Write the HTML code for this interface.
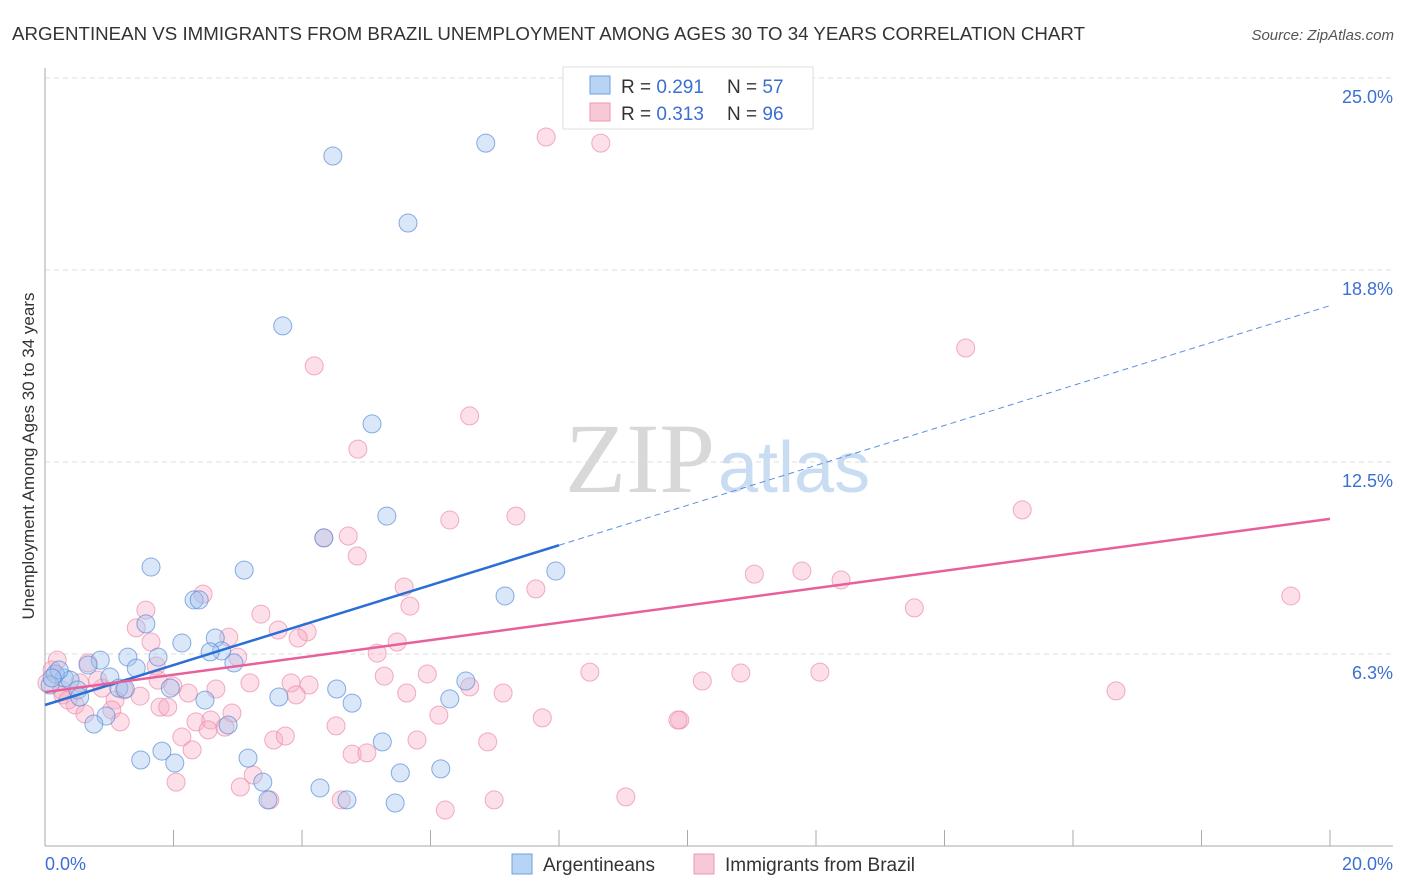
<!DOCTYPE html>
<html><head><meta charset="utf-8"><style>
body{margin:0;background:#fff;font-family:"Liberation Sans",sans-serif;}
#wrap{position:relative;width:1406px;height:892px;overflow:hidden;}
</style></head><body><div id="wrap">
<svg id="svg" width="1406" height="892" xmlns="http://www.w3.org/2000/svg">
<text x="12" y="40" font-size="18" fill="#333" textLength="1073" lengthAdjust="spacingAndGlyphs">ARGENTINEAN VS IMMIGRANTS FROM BRAZIL UNEMPLOYMENT AMONG AGES 30 TO 34 YEARS CORRELATION CHART</text>
<text x="1394" y="40" font-size="15" fill="#555" font-style="italic" text-anchor="end">Source: ZipAtlas.com</text>
<text x="715" y="492" font-size="100" fill="#d8d8d8" text-anchor="end" font-family="Liberation Serif">ZIP</text>
<text x="718" y="492" font-size="72" fill="#c8dcf2">atlas</text>
<text transform="translate(34,456) rotate(-90)" font-size="17" fill="#333" text-anchor="middle">Unemployment Among Ages 30 to 34 years</text>
<g id="grid"></g><g id="axes"></g><g id="pts"></g><g id="lines"></g>
<g>
<rect x="563" y="67" width="250" height="62" fill="#fff" stroke="#ddd"/>
<rect x="590" y="76" width="20" height="18" fill="#b8d4f4" stroke="#6fa0e0"/>
<rect x="590" y="103" width="20" height="18" fill="#f8c8d6" stroke="#ee98b4"/>
<text x="621" y="93" font-size="19" fill="#333">R = <tspan fill="#3b6fd4">0.291</tspan></text>
<text x="727" y="93" font-size="19" fill="#333">N = <tspan fill="#3b6fd4">57</tspan></text>
<text x="621" y="120" font-size="19" fill="#333">R = <tspan fill="#3b6fd4">0.313</tspan></text>
<text x="727" y="120" font-size="19" fill="#333">N = <tspan fill="#3b6fd4">96</tspan></text>
</g>
<g>
<rect x="512" y="854" width="20" height="20" fill="#b8d4f4" stroke="#6fa0e0"/>
<text x="543" y="871" font-size="19" fill="#333">Argentineans</text>
<rect x="694" y="854" width="20" height="20" fill="#f8c8d6" stroke="#ee98b4"/>
<text x="725" y="871" font-size="19" fill="#333">Immigrants from Brazil</text>
</g>
</svg></div>
<script>
const xTickLabels=["0.0%","20.0%"];
const yTicks=[6.25,12.5,18.75,25];
const yTickLabels=["6.3%","12.5%","18.8%","25.0%"];
const blueX=[4.48,6.86,5.65,3.70,5.09,5.32,4.34,1.65,3.10,7.95,7.16,2.32,2.40,1.57,2.13,2.65,2.75,2.57,2.94,1.76,1.29,0.86,0.67,1.42,0.30,0.39,1.01,1.15,1.25,1.95,0.16,0.08,0.51,0.54,2.49,3.64,4.54,4.78,6.55,6.30,0.95,0.76,2.85,1.82,1.49,2.02,3.16,5.25,3.39,5.53,6.16,4.28,3.47,4.70,5.45,0.22,0.11];
const blueY=[22.46,22.88,20.28,16.93,13.74,10.74,10.03,9.08,8.98,8.95,8.14,8.01,8.01,7.23,6.61,6.77,6.35,6.32,5.96,6.15,6.15,6.05,5.89,5.79,5.47,5.40,5.50,5.14,5.11,5.14,5.60,5.24,5.08,4.85,4.75,4.85,5.11,4.65,5.37,4.79,4.23,3.97,3.94,3.09,2.80,2.70,2.86,3.39,2.08,2.38,2.51,1.89,1.50,1.50,1.40,5.73,5.47];
const pinkX=[7.80,8.65,14.33,4.19,6.61,4.87,15.21,6.30,7.33,4.72,4.34,4.86,11.04,11.78,12.39,5.59,7.64,13.53,19.39,5.68,1.57,2.46,3.36,1.42,1.65,2.86,3.63,4.08,3.94,5.48,5.17,0.67,0.19,8.48,10.83,12.06,5.95,10.23,5.28,6.61,3.00,1.73,1.76,1.99,2.66,3.19,3.83,4.11,2.23,3.91,5.63,7.13,16.67,1.23,0.89,1.09,1.48,0.28,0.47,0.62,1.04,1.79,1.91,2.91,1.17,2.35,2.58,6.13,7.74,9.88,9.85,4.53,2.13,2.54,2.80,3.56,3.74,5.79,6.89,2.29,4.78,5.01,3.24,2.04,3.04,3.50,4.61,6.99,9.04,6.23,0.11,0.03,0.26,0.36,0.82,0.54];
const pinkY=[23.08,22.88,16.21,15.63,14.00,12.92,10.94,10.61,10.74,10.09,10.03,9.44,8.85,8.95,8.66,8.43,8.37,7.75,8.14,7.81,7.68,8.20,7.55,7.10,6.64,6.80,7.03,6.97,6.77,6.64,6.28,5.96,6.05,5.66,5.63,5.66,5.60,5.37,5.53,5.18,6.15,5.86,5.40,5.21,5.11,5.31,5.31,5.24,4.98,4.92,4.98,4.98,5.05,5.08,5.14,4.75,4.88,4.92,4.59,4.30,4.43,4.52,4.52,4.33,4.04,4.04,4.10,4.26,4.17,4.10,4.10,3.91,3.55,3.78,3.87,3.45,3.58,3.45,3.39,3.13,2.99,3.03,2.31,2.08,1.92,1.50,1.50,1.50,1.60,1.17,5.73,5.31,5.08,4.75,5.40,5.31];
const blueLine=[4.59,0.65,8.0];
const pinkLine=[5.01,0.282];
const NS="http://www.w3.org/2000/svg";
const X=v=>45+v*64.25, Y=v=>846-v*30.72;
function mk(t,a,p){const e=document.createElementNS(NS,t);for(const k in a)e.setAttribute(k,a[k]);document.getElementById(p).appendChild(e);return e;}
yTicks.forEach((t,i)=>{
 const l=mk('line',{x1:45,x2:1393,y1:Y(t),y2:Y(t),stroke:'#ddd','stroke-dasharray':'5,4'},'grid');
 
 
 const tx=mk('text',{x:1393,y:Y(t)+25,'font-size':18,fill:'#3b6fd4','text-anchor':'end'},'axes');
 tx.textContent=yTickLabels[i];
 
 
});
const ax=mk('line',{x1:45,x2:45,y1:68,y2:846,stroke:'#aaa'},'axes');


const bx=mk('line',{x1:45,x2:1393,y1:846,y2:846,stroke:'#aaa'},'axes');


for(let i=0;i<=10;i++){
 const t=mk('line',{x1:X(i*2),x2:X(i*2),y1:830,y2:846,stroke:'#aaa'},'axes');
 
 
}
[[0,'start',45],[20,'end',1393]].forEach((d,i)=>{
 const t=mk('text',{x:d[2],y:870,'font-size':18,fill:'#3b6fd4','text-anchor':d[1]},'axes');
 t.textContent=xTickLabels[i];
 
 
});
pinkX.forEach((v,i)=>{
 const c=mk('circle',{cx:X(v),cy:Y(pinkY[i]),r:9,fill:'rgba(246,170,195,0.38)',stroke:'rgba(236,140,170,0.7)'},'pts');
 
 
});
blueX.forEach((v,i)=>{
 const c=mk('circle',{cx:X(v),cy:Y(blueY[i]),r:9,fill:'rgba(160,196,240,0.4)',stroke:'rgba(90,140,215,0.7)'},'pts');
 
 
});
const b1=mk('line',{x1:X(0),y1:Y(blueLine[0]),x2:X(blueLine[2]),y2:Y(blueLine[0]+blueLine[1]*blueLine[2]),stroke:'#2a6fd6','stroke-width':2.5},'lines');


const b2=mk('line',{x1:X(blueLine[2]),y1:Y(blueLine[0]+blueLine[1]*blueLine[2]),x2:X(20),y2:Y(blueLine[0]+blueLine[1]*20),stroke:'#5a8fe0','stroke-width':1,'stroke-dasharray':'6,4'},'lines');


const p1=mk('line',{x1:X(0),y1:Y(pinkLine[0]),x2:X(20),y2:Y(pinkLine[0]+pinkLine[1]*20),stroke:'#e8609a','stroke-width':2.5},'lines');


</script></body></html>
